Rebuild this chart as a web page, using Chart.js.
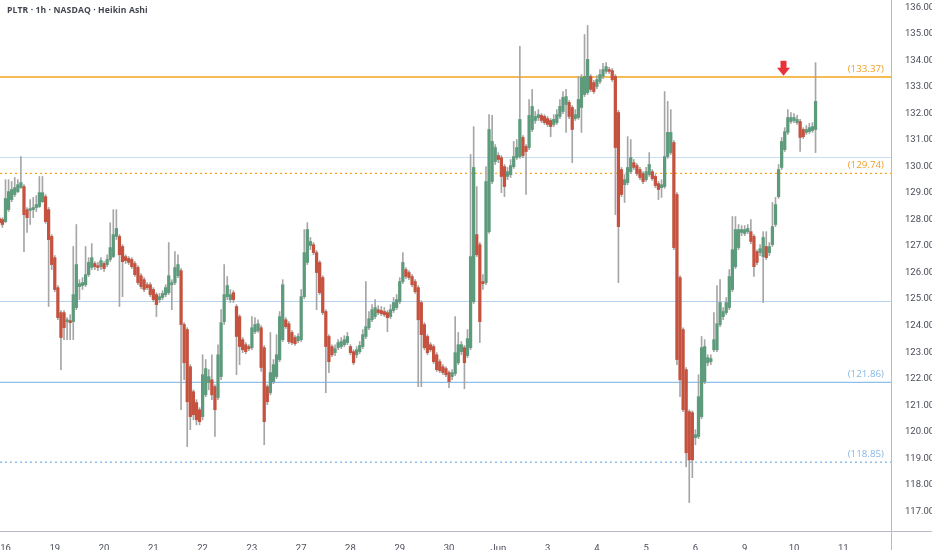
<!DOCTYPE html>
<html><head><meta charset="utf-8">
<script src="https://cdn.jsdelivr.net/npm/chart.js@4.4.1/dist/chart.umd.min.js"></script>
<style>
html,body{margin:0;padding:0;background:#fff;}
#wrap{position:relative;width:932px;height:550px;overflow:hidden;}
#title{position:absolute;left:7px;top:4px;font:700 8.6px "Open Sans",sans-serif;color:#434651;letter-spacing:0.1px;}
</style></head><body>
<div id="wrap"><canvas id="c" width="932" height="550"></canvas><div id="title">PLTR · 1h · NASDAQ · Heikin Ashi</div></div>
<script>
const firstBar = -2;
const opens = [128.03,128.00,
127.92,128.37,128.75,128.94,129.05,129.20,129.24,128.37,128.34,128.37,
128.45,128.49,128.67,128.86,128.37,127.36,126.56,125.43,124.49,124.49,
124.15,124.19,124.15,124.68,125.47,125.51,125.54,125.92,126.19,126.34,
126.26,126.22,126.34,126.30,126.49,126.60,127.36,127.36,126.98,126.60,
126.53,126.49,126.34,126.19,125.88,125.73,125.54,125.54,125.36,125.17,
124.98,125.06,125.17,125.24,125.54,125.62,125.88,126.07,124.04,123.85,
122.45,121.51,121.10,120.83,120.57,121.39,121.85,121.96,121.70,121.29,
122.08,124.15,125.09,124.98,125.24,124.72,124.34,123.47,123.28,123.21,
123.17,123.77,123.81,123.92,123.17,121.70,121.47,121.89,122.08,122.72,
123.47,124.22,124.07,123.74,123.55,123.43,123.47,125.09,126.38,127.02,
127.05,126.75,126.38,125.81,124.53,123.59,123.21,122.98,123.17,123.21,
123.28,123.36,123.21,123.02,122.90,123.02,123.21,123.59,123.92,124.22,
124.34,124.60,124.57,124.53,124.49,124.34,124.57,124.68,124.90,125.66,
126.11,126.00,125.85,125.66,125.43,124.87,124.04,123.59,123.28,123.21,
122.90,122.64,122.45,122.38,122.23,122.08,122.19,122.60,123.02,123.17,
122.87,123.17,124.90,127.43,127.05,125.66,125.62,127.54,129.43,130.18,
130.41,130.33,129.99,129.62,129.69,129.99,130.33,130.37,131.09,130.75,
130.71,131.39,131.73,131.84,131.92,131.88,131.80,131.73,131.58,131.65,
131.88,132.07,132.33,132.41,132.22,131.80,131.84,132.22,132.71,132.78,
133.39,133.16,133.01,133.20,133.39,133.58,133.65,133.61,133.39,132.03,
129.88,129.31,129.39,129.80,130.14,130.03,129.88,129.73,129.50,129.69,
129.80,129.62,129.35,129.20,129.24,130.37,130.52,130.90,128.94,125.81,
123.85,122.34,120.76,120.72,119.78,119.82,120.57,121.89,122.60,122.64,
123.09,123.09,124.04,124.34,124.49,124.68,125.36,126.22,126.94,127.51,
127.47,127.54,127.54,127.36,126.79,126.75,126.60,126.98,126.75,127.05,
127.81,128.86,129.96,130.63,131.28,131.69,131.73,131.65,131.69,131.39,
131.28,131.31,131.35,131.39];
const closes = [127.88,127.81,
128.79,129.05,129.13,129.20,129.31,129.39,128.18,128.07,128.41,128.45,
128.56,129.01,129.01,127.92,127.24,126.30,125.36,124.30,123.55,123.92,
124.22,124.11,125.17,126.30,125.58,125.62,125.92,126.38,126.56,126.22,
126.19,126.45,126.15,126.49,126.94,127.43,127.66,126.67,126.41,126.45,
126.38,126.22,125.92,125.62,125.47,125.36,125.43,125.17,124.98,124.79,
125.09,125.21,125.43,125.88,125.62,126.19,126.30,124.04,122.60,121.13,
120.57,120.64,120.45,120.38,122.15,122.38,122.08,121.39,120.83,122.90,
124.11,125.17,125.51,125.17,124.98,123.59,123.21,123.09,123.02,123.13,
123.92,124.04,124.07,122.42,120.38,121.13,122.23,122.53,122.90,124.34,
125.54,123.96,123.40,123.36,123.32,123.59,125.09,126.75,127.62,127.17,
126.75,126.00,125.24,124.49,123.21,122.64,122.90,123.13,123.36,123.40,
123.47,123.59,122.98,122.60,123.09,123.25,123.66,123.96,124.26,124.60,
124.68,124.49,124.45,124.41,124.30,124.60,124.87,124.98,125.66,126.38,
125.85,125.81,125.54,125.28,124.22,123.66,123.17,122.98,123.09,122.64,
122.34,122.30,122.23,122.15,121.89,122.23,122.98,123.28,123.28,122.60,
123.51,126.60,129.96,126.67,124.15,125.58,129.43,131.39,130.94,130.71,
130.26,129.62,129.24,129.80,130.03,130.37,130.71,131.77,130.41,130.56,
131.92,132.26,131.88,131.95,131.73,131.65,131.58,131.50,131.77,131.95,
132.26,132.60,132.63,131.88,131.39,131.95,132.52,133.35,133.39,134.03,
132.90,132.82,133.27,133.46,133.65,133.76,133.58,133.27,130.71,127.73,
128.94,129.50,129.96,130.33,129.96,129.73,129.58,129.43,129.80,130.07,
129.54,129.28,129.13,129.31,130.37,131.28,131.28,126.94,122.72,121.96,
120.83,119.21,118.94,118.94,119.89,121.32,123.17,123.21,122.79,122.76,
123.47,124.07,124.87,124.53,124.87,125.85,126.86,127.62,127.62,127.62,
127.62,127.66,127.17,126.22,126.38,126.90,127.32,126.56,126.98,127.73,
128.56,129.88,130.94,131.31,131.84,131.84,131.84,131.77,131.09,131.12,
131.39,131.46,131.50,132.45];
const highs = [128.15,128.07,
129.50,129.50,129.43,129.58,129.50,130.37,129.31,128.45,128.75,128.83,
128.90,129.62,129.62,128.94,128.45,127.43,126.64,125.51,124.57,124.57,
124.30,124.41,126.98,127.81,125.73,125.81,126.98,126.56,127.09,126.41,
126.38,126.56,126.41,126.67,127.88,128.37,128.37,127.43,127.05,126.67,
126.60,126.56,126.41,126.26,125.96,125.81,125.62,125.62,125.43,125.24,
125.21,125.32,125.54,127.13,125.73,126.79,126.67,126.15,124.11,123.92,
122.53,121.58,121.21,120.91,122.90,122.72,122.34,122.90,121.77,123.28,
124.60,126.30,125.85,125.36,125.32,124.79,124.41,123.55,123.36,123.28,
124.34,124.30,124.22,124.00,123.25,121.77,123.74,122.72,123.66,124.53,
125.73,124.30,124.15,123.81,123.62,123.70,125.36,127.62,127.88,127.32,
127.13,126.83,126.45,125.88,124.60,123.66,123.28,123.28,123.47,123.55,
123.62,123.74,123.28,123.09,123.21,123.40,123.85,125.66,124.53,124.79,
124.98,124.75,124.72,124.68,124.57,124.79,125.06,125.17,125.81,126.75,
126.19,126.07,125.92,125.73,125.51,124.94,124.11,123.66,123.36,123.28,
122.98,122.72,122.53,122.45,122.30,122.34,124.34,123.74,123.40,123.25,
123.85,130.45,131.50,129.24,127.13,125.92,129.99,131.95,131.92,130.82,
130.52,130.41,130.07,129.96,130.26,130.94,131.01,134.52,131.16,130.82,
132.52,132.90,132.07,132.14,131.99,131.95,131.88,131.80,131.95,132.14,
132.52,132.82,132.90,132.48,132.29,132.14,133.39,133.46,134.97,135.31,
133.46,133.24,133.42,133.65,133.88,133.91,133.73,133.69,133.46,132.11,
129.96,129.69,131.12,131.01,130.26,130.11,129.96,129.80,129.96,130.52,
129.88,129.69,129.43,129.50,132.82,132.45,132.14,130.97,129.01,125.88,
123.92,122.42,120.83,120.79,120.08,122.15,123.59,123.47,122.90,122.90,
124.49,125.51,125.73,124.68,125.06,126.11,128.11,128.11,127.81,127.77,
127.77,127.81,128.00,127.43,126.86,127.05,127.54,127.54,127.13,128.64,
128.83,130.07,131.09,131.46,132.14,132.03,131.99,131.92,131.77,131.46,
131.54,131.62,131.65,133.91];
const lows = [127.77,127.70,
127.88,128.30,128.67,128.86,129.01,129.17,126.79,127.51,127.81,128.07,
128.30,128.45,128.64,127.85,124.72,126.11,125.28,124.22,122.34,123.47,
123.47,123.47,123.47,124.60,124.98,125.36,125.47,125.85,126.11,126.11,
126.07,126.11,126.04,126.22,126.41,126.56,127.24,124.72,125.09,126.34,
126.30,126.15,125.85,125.54,125.39,125.28,125.36,125.09,124.90,124.34,
124.87,124.98,125.09,125.17,124.60,125.54,125.81,120.83,121.96,119.44,
120.08,120.45,120.26,120.26,120.45,121.32,121.58,121.21,119.82,121.21,
121.96,124.04,124.98,124.87,124.87,122.15,122.53,122.98,122.94,123.06,
123.09,123.70,123.74,122.27,119.51,121.02,121.39,121.81,122.00,122.64,
123.40,123.89,123.32,123.28,123.25,123.36,123.40,125.02,126.30,126.86,
126.67,124.60,125.17,124.41,121.47,122.23,122.83,122.87,123.09,123.13,
123.21,123.28,122.90,122.53,122.79,122.94,123.13,123.51,123.85,124.15,
124.26,124.41,124.38,124.34,123.77,124.26,124.49,124.60,124.83,125.58,
125.77,125.73,125.47,125.21,121.70,121.70,123.09,122.90,123.02,122.57,
122.27,122.23,122.15,122.08,121.66,121.96,122.11,122.53,122.90,121.62,
122.79,123.09,124.83,126.60,123.36,125.36,125.54,127.47,129.35,130.07,
130.14,129.01,128.86,129.50,129.58,129.92,130.26,130.30,130.33,128.94,
130.63,131.31,131.62,131.73,131.65,131.58,131.50,131.12,131.50,131.58,
131.80,131.99,131.28,131.80,130.14,131.73,131.77,131.28,132.63,132.71,
132.82,132.75,132.93,133.12,133.31,133.50,133.50,133.20,128.18,125.62,
128.86,128.64,129.31,129.73,129.88,129.66,129.50,129.35,129.43,129.62,
129.47,129.20,128.75,128.83,129.17,130.30,130.45,126.86,122.53,121.32,
120.76,118.68,117.33,118.27,119.51,119.74,120.49,121.81,122.49,122.53,
123.02,123.02,123.96,124.22,124.41,124.60,125.28,126.15,126.86,127.39,
127.39,127.47,127.09,125.85,126.30,126.64,124.87,126.49,126.64,126.98,
127.73,128.79,129.88,130.56,131.20,131.62,131.65,131.58,130.56,131.05,
131.20,131.24,131.28,130.52];
const dayTickBars = [0,16,32,48,64,80,96,112,128,144,160,176,192,208,224,240,256,272];
const dayTickLabels = ['16','19','20','21','22','23','27','28','29','30','Jun','3','4','5','6','9','10','11'];
const priceTicks = [117,118,119,120,121,122,123,124,125,126,127,128,129,130,131,132,133,134,135,136];
const levelPrices = [133.37,129.74,121.86,118.85];
const levelLabels = ['(133.37)','(129.74)','(121.86)','(118.85)'];
const thinLevelPrices = [130.35,124.93];
const arrowBar = 252.6;
const arrowPrice = 133.42;

const levelStyles = [
  {color:'#f5a41c', width:1.6, dash:[] , text:'#f0a02a'},
  {color:'#f5a41c', width:1.3, dash:[2,3], text:'#f0a02a'},
  {color:'#8fbfe9', width:1.2, dash:[], text:'#86b8e4'},
  {color:'#8fbfe9', width:1.3, dash:[2,3], text:'#86b8e4'}
];
const thinStyles = [{color:'#c9def2', width:1},{color:'#b5d3f0', width:1}];

const UP = '#5d9b7c', DOWN = '#c5523f', WICK = '#a6a6a6', AXIS = '#b8bbc2';

const wickData = lows.map((l, i) => ({x: firstBar + i, y: [l, highs[i]]}));
const bodyData = opens.map((o, i) => ({x: firstBar + i, y: [o, closes[i]]}));

const overlay = {
  id: 'overlay',
  beforeDatasetsDraw(chart) {
    const {ctx, chartArea: a, scales: {y}} = chart;
    ctx.save();
    thinLevelPrices.forEach((p, i) => {
      const py = Math.round(y.getPixelForValue(p)) + 0.5;
      ctx.strokeStyle = thinStyles[i].color; ctx.lineWidth = thinStyles[i].width;
      ctx.beginPath(); ctx.moveTo(a.left, py); ctx.lineTo(a.right, py); ctx.stroke();
    });
    levelPrices.forEach((p, i) => {
      const st = levelStyles[i];
      const py = y.getPixelForValue(p);
      ctx.strokeStyle = st.color; ctx.lineWidth = st.width; ctx.setLineDash(st.dash);
      ctx.beginPath(); ctx.moveTo(a.left, py); ctx.lineTo(a.right, py); ctx.stroke();
    });
    ctx.restore();
  },
  afterDatasetsDraw(chart) {
    const {ctx, chartArea: a, scales: {x, y}} = chart;
    ctx.save();
    ctx.font = '9.8px "Open Sans", sans-serif';
    ctx.textAlign = 'right'; ctx.textBaseline = 'middle';
    levelPrices.forEach((p, i) => {
      const py = y.getPixelForValue(p);
      ctx.fillStyle = levelStyles[i].text;
      ctx.fillText(levelLabels[i], a.right - 7, py - 8);
    });
    const ax = x.getPixelForValue(arrowBar), ay = y.getPixelForValue(arrowPrice);
    ctx.fillStyle = '#e8323a';
    ctx.beginPath();
    ctx.moveTo(ax - 3, ay - 15); ctx.lineTo(ax + 3, ay - 15); ctx.lineTo(ax + 3, ay - 8);
    ctx.lineTo(ax + 6.5, ay - 8); ctx.lineTo(ax, ay); ctx.lineTo(ax - 6.5, ay - 8);
    ctx.lineTo(ax - 3, ay - 8); ctx.closePath(); ctx.fill();
    ctx.strokeStyle = AXIS; ctx.lineWidth = 1;
    ctx.beginPath();
    ctx.moveTo(a.right, a.bottom + 0.5); ctx.lineTo(chart.width, a.bottom + 0.5);
    ctx.moveTo(a.right + 0.5, a.bottom); ctx.lineTo(a.right + 0.5, chart.height);
    ctx.stroke();
    ctx.restore();
  }
};

new Chart(document.getElementById('c'), {
  type: 'bar',
  data: {
    datasets: [
      {label: 'wick', data: wickData, backgroundColor: WICK, barThickness: 1, grouped: false, order: 2},
      {label: 'body', data: bodyData, grouped: false, order: 1, barThickness: 2.6, minBarLength: 1,
       backgroundColor: c => closes[c.dataIndex] >= opens[c.dataIndex] ? UP : DOWN}
    ]
  },
  options: {
    responsive: false, animation: false, devicePixelRatio: 1,
    layout: {padding: 0},
    plugins: {legend: {display: false}, tooltip: {enabled: false}},
    scales: {
      x: {
        type: 'linear', min: -1.786, max: 287.5, offset: false,
        grid: {display: false, offset: false}, border: {display: true, color: AXIS},
        ticks: {autoSkip: false, maxRotation: 0, padding: 4, color: '#4a4e59',
          font: {family: 'Roboto', size: 9.5},
          callback: (v, i) => dayTickLabels[dayTickBars.indexOf(v)] ?? ''},
        afterBuildTicks: s => { s.ticks = dayTickBars.map(v => ({value: v})); },
        afterFit: s => { s.height = 19; s.paddingLeft = 0; s.paddingRight = 0; }
      },
      y: {
        type: 'linear', position: 'right', min: 116.26, max: 136.27,
        grid: {display: false}, border: {display: true, color: AXIS},
        ticks: {padding: 6, color: '#4a4e59', font: {family: 'Roboto', size: 9.5},
          callback: v => Number(v).toFixed(2)},
        afterBuildTicks: s => { s.ticks = priceTicks.map(v => ({value: v})); },
        afterFit: s => { s.width = 41; s.paddingTop = 0; s.paddingBottom = 0; }
      }
    }
  },
  plugins: [overlay]
});
</script>
</body></html>
